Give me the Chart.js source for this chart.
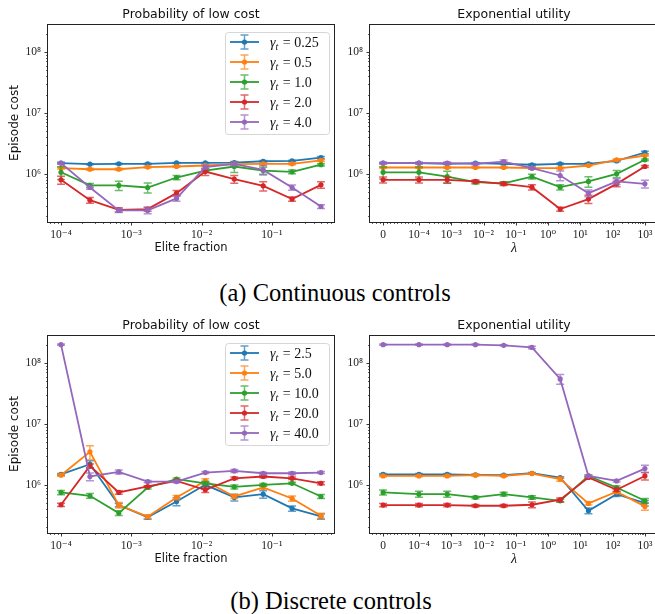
<!DOCTYPE html>
<html>
<head>
<meta charset="utf-8">
<script src="https://cdn.jsdelivr.net/npm/chart.js@4.4.0/dist/chart.umd.min.js"></script>
<style>
html, body { margin: 0; padding: 0; background: #fff; overflow: hidden; }
#page { position: relative; width: 655px; height: 614px; overflow: hidden; }
canvas { position: absolute; }
.caption { position: absolute; left: 0; text-align: center; font-family: "Liberation Serif", serif; font-size: 24.5px; line-height: 24px; color: #000; }
</style>
</head>
<body>
<div id="page">
  <canvas id="contElite" width="340" height="262" style="left:0;top:0"></canvas>
  <canvas id="contUtil" width="330" height="262" style="left:335px;top:0"></canvas>
  <div class="caption" style="top:281px;width:670px">(a) Continuous controls</div>
  <canvas id="discElite" width="340" height="262" style="left:0;top:311px"></canvas>
  <canvas id="discUtil" width="330" height="262" style="left:335px;top:311px"></canvas>
  <div class="caption" style="top:589px;width:662px">(b) Discrete controls</div>
</div>
<script>
// x values
const eliteFrac = [1e-4, 2.58e-4, 6.64e-4, 1.71e-3, 4.40e-3, 1.13e-2, 2.92e-2, 7.53e-2, 0.194, 0.5];
const lambdas = [0, 1e-4, 7.5e-4, 5.62e-3, 4.22e-2, 0.316, 2.37, 17.8, 133, 1000];

// tick labels
const eliteTicks = [1e-4, 1e-3, 1e-2, 1e-1];
const eliteTickLabels = ['10⁻⁴', '10⁻³', '10⁻²', '10⁻¹'];
const lambdaTicks = [0, 1e-4, 1e-3, 1e-2, 1e-1, 1, 10, 100, 1000];
const lambdaTickLabels = ['0', '10⁻⁴', '10⁻³', '10⁻²', '10⁻¹', '10⁰', '10¹', '10²', '10³'];
const costTicks = [1e6, 1e7, 1e8];
const costTickLabels = ['10⁶', '10⁷', '10⁸'];

const contGammas = ['0.25', '0.5', '1.0', '2.0', '4.0'];
const discGammas = ['2.5', '5.0', '10.0', '20.0', '40.0'];
const colors = ['#1f77b4', '#ff7f0e', '#2ca02c', '#d62728', '#9467bd'];

// (a) continuous, probability of low cost
const contEliteCost = [
  [1.50e6, 1.44e6, 1.46e6, 1.46e6, 1.51e6, 1.51e6, 1.53e6, 1.61e6, 1.63e6, 1.85e6],
  [1.24e6, 1.19e6, 1.19e6, 1.29e6, 1.32e6, 1.37e6, 1.44e6, 1.46e6, 1.46e6, 1.66e6],
  [1.06e6, 6.45e5, 6.45e5, 5.97e5, 8.7e5, 1.13e6, 1.32e6, 1.13e6, 1.08e6, 1.41e6],
  [7.97e5, 3.70e5, 2.57e5, 2.64e5, 4.82e5, 1.09e6, 8.19e5, 6.35e5, 3.85e5, 6.6e5],
  [1.50e6, 5.97e5, 2.51e5, 2.51e5, 3.95e5, 1.29e6, 1.46e6, 1.16e6, 5.97e5, 2.91e5]
];
const contEliteErr = [
  [3e4, 3e4, 3e4, 3e4, 3e4, 3e4, 3e4, 4e4, 4e4, 8e4],
  [4e4, 4e4, 4e4, 4e4, 4e4, 4e4, 5e4, 5e4, 5e4, 6e4],
  [2.5e5, 5e4, 1.1e5, 1.1e5, 7e4, 5e4, 2.7e5, 1.5e5, 8e4, 6e4],
  [1.2e5, 4e4, 2e4, 2e4, 5e4, 1.5e5, 1.2e5, 1.1e5, 3e4, 8e4],
  [5e4, 4e4, 2e4, 3e4, 4e4, 8e4, 1e5, 2e5, 6e4, 2e4]
];

// (a) continuous, exponential utility
const contUtilCost = [
  [1.50e6, 1.50e6, 1.46e6, 1.50e6, 1.46e6, 1.41e6, 1.46e6, 1.46e6, 1.63e6, 2.24e6],
  [1.27e6, 1.27e6, 1.27e6, 1.27e6, 1.27e6, 1.24e6, 1.24e6, 1.37e6, 1.70e6, 2.0e6],
  [1.06e6, 1.06e6, 9.0e5, 7.3e5, 7.0e5, 9.0e5, 6.04e5, 7.5e5, 1.0e6, 1.70e6],
  [7.97e5, 7.97e5, 7.97e5, 7.5e5, 6.85e5, 6.04e5, 2.64e5, 3.85e5, 6.85e5, 1.32e6],
  [1.50e6, 1.50e6, 1.50e6, 1.46e6, 1.59e6, 1.24e6, 9.4e5, 4.82e5, 7.5e5, 6.85e5]
];
const contUtilErr = [
  [4e4, 4e4, 4e4, 4e4, 4e4, 4e4, 4e4, 4e4, 5e4, 1e5],
  [4e4, 4e4, 4e4, 4e4, 4e4, 4e4, 4e4, 4e4, 6e4, 6e4],
  [2.4e5, 2.4e5, 2e5, 5e4, 4e4, 8e4, 6e4, 1.5e5, 1.3e5, 6e4],
  [9e4, 9e4, 9e4, 4e4, 4e4, 6e4, 2e4, 6e4, 7e4, 5e4],
  [5e4, 5e4, 6e4, 6e4, 1e5, 5e4, 1.7e5, 6e4, 8e4, 1e5]
];

// (b) discrete, probability of low cost
const discEliteCost = [
  [1.49e6, 2.18e6, 4.65e5, 2.93e5, 5.34e5, 1.0e6, 6.21e5, 7.03e5, 4.10e5, 3.03e5],
  [1.44e6, 3.47e6, 4.65e5, 3.0e5, 6.21e5, 1.16e6, 6.44e5, 9.04e5, 5.98e5, 3.11e5],
  [7.5e5, 6.6e5, 3.44e5, 9.04e5, 1.24e6, 1.06e6, 9.27e5, 1.0e6, 1.06e6, 6.44e5],
  [4.71e5, 2.05e6, 7.5e5, 9.4e5, 1.16e6, 8.28e5, 1.28e6, 1.37e6, 1.28e6, 1.06e6],
  [2.0e8, 1.37e6, 1.63e6, 1.13e6, 1.13e6, 1.59e6, 1.69e6, 1.55e6, 1.55e6, 1.59e6]
];
const discEliteErr = [
  [5e4, 3e5, 3e4, 2e4, 8e4, 1.5e5, 8e4, 1e5, 4e4, 3e4],
  [5e4, 9e5, 5e4, 2e4, 5e4, 1e5, 5e4, 5e4, 6e4, 3e4],
  [6e4, 6e4, 3e4, 5e4, 5e4, 5e4, 7e4, 5e4, 4e4, 5e4],
  [3e4, 1.5e5, 5e4, 3e4, 4e4, 8e4, 6e4, 6e4, 6e4, 6e4],
  [5e6, 2e5, 1.2e5, 5e4, 5e4, 6e4, 1e5, 6e4, 8e4, 6e4]
];

// (b) discrete, exponential utility
const discUtilCost = [
  [1.49e6, 1.49e6, 1.49e6, 1.46e6, 1.44e6, 1.55e6, 1.32e6, 3.76e5, 7.03e5, 5.01e5],
  [1.40e6, 1.40e6, 1.40e6, 1.44e6, 1.40e6, 1.53e6, 1.24e6, 4.95e5, 7.69e5, 4.43e5],
  [7.5e5, 7.03e5, 7.03e5, 6.21e5, 7.03e5, 6.21e5, 5.47e5, 1.40e6, 9.04e5, 5.47e5],
  [4.65e5, 4.65e5, 4.65e5, 4.54e5, 4.54e5, 4.71e5, 5.69e5, 1.32e6, 8.28e5, 1.40e6],
  [2.0e8, 2.0e8, 2.0e8, 2.0e8, 1.95e8, 1.80e8, 5.47e7, 1.40e6, 1.16e6, 1.85e6]
];
const discUtilErr = [
  [4e4, 4e4, 4e4, 4e4, 4e4, 4e4, 4e4, 4e4, 6e4, 5e4],
  [4e4, 4e4, 4e4, 4e4, 4e4, 4e4, 1e5, 3e4, 5e4, 6e4],
  [7e4, 8e4, 8e4, 3e4, 5e4, 4e4, 3e4, 5e4, 5e4, 5e4],
  [3e4, 3e4, 3e4, 2e4, 2e4, 5e4, 4e4, 5e4, 5e4, 2e5],
  [4e6, 4e6, 4e6, 4e6, 4e6, 8e6, 1e7, 5e4, 5e4, 2.5e5]
];

// symlog transform (linthresh 1e-4, linscale 1), like matplotlib
const LT = 1e-4, LS = 1 / (1 - 0.1);
function symlog(v) {
  const a = Math.abs(v);
  if (a <= LT) return v / LT * LS;
  return Math.sign(v) * (LS + Math.log10(a / LT));
}

const Y_MIN = 1.62e5, Y_MAX = 2.88e8;
const yMinor = [];
for (let j = 5; j <= 8; j++) for (let k = 2; k <= 9; k++) {
  const v = k * Math.pow(10, j);
  if (v > Y_MIN && v < Y_MAX) yMinor.push(v);
}

const ELITE_MIN = 6.53e-5, ELITE_MAX = 0.766;
const eliteMinor = [];
for (let j = -5; j <= -1; j++) for (let k = 2; k <= 9; k++) {
  const v = k * Math.pow(10, j);
  if (v > ELITE_MIN && v < ELITE_MAX) eliteMinor.push(v);
}

const LAM_MIN = -0.406, LAM_MAX = 8.517;
const lamMinor = [];
for (let k = -3; k <= 9; k++) if (k !== 0) lamMinor.push(symlog(k * 1e-5));
for (let j = -4; j <= 3; j++) for (let k = 2; k <= 9; k++) {
  const s = symlog(k * Math.pow(10, j));
  if (s < LAM_MAX) lamMinor.push(s);
}

function supFont(size) { return { family: '"Liberation Serif", "DejaVu Serif", serif', size: size }; }

const mplPlugin = {
  id: 'mpl',
  beforeDatasetDraw(chart, args) {
    const ds = chart.data.datasets[args.index];
    const ctx = chart.ctx, ys = chart.scales.y;
    ctx.save();
    ctx.strokeStyle = ds.borderColor;
    ctx.globalAlpha = 0.7;
    ctx.lineWidth = 1.5;
    args.meta.data.forEach((pt, i) => {
      const v = ds.data[i].y, e = ds.err[i];
      const top = ys.getPixelForValue(v + e);
      const bot = ys.getPixelForValue(Math.max(v - e, 1));
      ctx.beginPath();
      ctx.moveTo(pt.x, top); ctx.lineTo(pt.x, bot);
      ctx.moveTo(pt.x - 4, top); ctx.lineTo(pt.x + 4, top);
      ctx.moveTo(pt.x - 4, bot); ctx.lineTo(pt.x + 4, bot);
      ctx.stroke();
    });
    ctx.restore();
  },
  afterDraw(chart, args, opts) {
    const ctx = chart.ctx, a = chart.chartArea;
    const xs = chart.scales.x, ys = chart.scales.y;
    ctx.save();
    // frame
    ctx.strokeStyle = '#222';
    ctx.lineWidth = 1;
    ctx.strokeRect(a.left - 0.5, a.top + 0.5, a.right - a.left + 1, a.bottom - a.top);
    // ticks
    const tick = (list, len, lw, horiz) => {
      ctx.lineWidth = lw;
      ctx.beginPath();
      list.forEach(v => {
        if (horiz) {
          const p = Math.round(xs.getPixelForValue(v)) + 0.5;
          ctx.moveTo(p, a.bottom); ctx.lineTo(p, a.bottom + len);
        } else {
          const p = Math.round(ys.getPixelForValue(v)) + 0.5;
          ctx.moveTo(a.left, p); ctx.lineTo(a.left - len, p);
        }
      });
      ctx.stroke();
    };
    tick(opts.xMajor, 3.5, 0.9, true);
    tick(opts.xMinor, 2, 0.7, true);
    tick(costTicks, 3.5, 0.9, false);
    tick(yMinor, 2, 0.7, false);
    // titles
    ctx.fillStyle = '#111';
    ctx.textAlign = 'center';
    ctx.textBaseline = 'middle';
    ctx.font = '12.5px "DejaVu Sans"';
    ctx.fillText(opts.title, (a.left + a.right) / 2, a.top - 9.5);
    ctx.font = opts.xTitleFont;
    ctx.fillText(opts.xTitle, (a.left + a.right) / 2, a.bottom + 26);
    if (opts.yTitle) {
      ctx.save();
      ctx.translate(15, (a.top + a.bottom) / 2);
      ctx.rotate(-Math.PI / 2);
      ctx.font = '12px "DejaVu Sans"';
      ctx.fillText(opts.yTitle, 0, 0);
      ctx.restore();
    }
    if (opts.legend) drawLegend(chart, opts.legend);
    ctx.restore();
  }
};

function drawLegend(chart, gammas) {
  const ctx = chart.ctx, a = chart.chartArea;
  const w = 104, h = 102, x0 = a.right - 5 - w, y0 = a.top + 8;
  ctx.save();
  ctx.beginPath();
  ctx.roundRect(x0 + 0.5, y0 + 0.5, w, h, 3);
  ctx.fillStyle = 'rgba(255,255,255,0.8)';
  ctx.fill();
  ctx.strokeStyle = '#d6d6d6';
  ctx.lineWidth = 1;
  ctx.stroke();
  chart.data.datasets.forEach((ds, i) => {
    const cy = y0 + 10 + i * 20, hx = x0 + 19.5;
    ctx.strokeStyle = ds.borderColor;
    ctx.lineWidth = 1.8;
    ctx.beginPath(); ctx.moveTo(x0 + 5, cy); ctx.lineTo(x0 + 34, cy); ctx.stroke();
    ctx.globalAlpha = 0.7;
    ctx.lineWidth = 1.5;
    ctx.beginPath();
    ctx.moveTo(hx, cy - 7); ctx.lineTo(hx, cy + 7);
    ctx.moveTo(hx - 4, cy - 7); ctx.lineTo(hx + 4, cy - 7);
    ctx.moveTo(hx - 4, cy + 7); ctx.lineTo(hx + 4, cy + 7);
    ctx.stroke();
    ctx.globalAlpha = 1;
    ctx.fillStyle = ds.borderColor;
    ctx.beginPath(); ctx.arc(hx, cy, 2.6, 0, Math.PI * 2); ctx.fill();
    // label: gamma_t = value
    ctx.fillStyle = '#111';
    ctx.textAlign = 'left';
    ctx.textBaseline = 'alphabetic';
    let tx = x0 + 45;
    const base = cy + 5;
    ctx.font = 'italic 14px "Liberation Serif", "DejaVu Serif", serif';
    ctx.fillText('γ', tx, base);
    tx += ctx.measureText('γ').width;
    ctx.font = 'italic 10px "Liberation Serif", "DejaVu Serif", serif';
    ctx.fillText('t', tx, base + 3);
    tx += ctx.measureText('t').width + 1;
    ctx.font = '14px "Liberation Serif", "DejaVu Serif", serif';
    ctx.fillText(' = ' + gammas[i], tx, base);
  });
  ctx.restore();
}

function buildChart(id, cfg) {
  const isLog = cfg.kind === 'elite';
  const xv = isLog ? eliteFrac : lambdas.map(symlog);
  const datasets = cfg.cost.map((series, i) => ({
    label: 'γt = ' + cfg.gammas[i],
    data: series.map((y, j) => ({ x: xv[j], y: y })),
    err: cfg.err[i],
    borderColor: colors[i],
    backgroundColor: colors[i],
    borderWidth: 1.8,
    pointRadius: 2.6,
    pointBorderWidth: 0,
    pointHoverRadius: 0,
    tension: 0,
    order: 4 - i
  }));
  const xMajorVals = isLog ? eliteTicks : lambdaTicks.map(symlog);
  const xLabels = isLog ? eliteTickLabels : lambdaTickLabels;
  return new Chart(document.getElementById(id), {
    type: 'line',
    data: { datasets: datasets },
    plugins: [mplPlugin],
    options: {
      responsive: false,
      animation: false,
      devicePixelRatio: 1,
      events: [],
      layout: { padding: { top: 24, right: cfg.padR, left: 0, bottom: 0 } },
      plugins: {
        legend: { display: false },
        tooltip: { enabled: false },
        mpl: {
          title: cfg.title,
          xTitle: isLog ? 'Elite fraction' : 'λ',
          xTitleFont: isLog ? '11.5px "DejaVu Sans"' : 'italic 14px "Liberation Serif", "DejaVu Serif", serif',
          yTitle: cfg.yTitle,
          legend: cfg.legend,
          xMajor: xMajorVals,
          xMinor: isLog ? eliteMinor : lamMinor
        }
      },
      scales: {
        x: {
          type: isLog ? 'logarithmic' : 'linear',
          min: isLog ? ELITE_MIN : LAM_MIN,
          max: isLog ? ELITE_MAX : LAM_MAX,
          grid: { display: false, drawTicks: false },
          border: { display: false },
          ticks: {
            autoSkip: false, maxRotation: 0, padding: 6,
            color: '#222', font: supFont(11.5),
            callback: (v, i) => xLabels[i]
          },
          afterBuildTicks: s => { s.ticks = xMajorVals.map(v => ({ value: v })); },
          afterFit: s => { s.height = 40; }
        },
        y: {
          type: 'logarithmic',
          min: Y_MIN, max: Y_MAX,
          grid: { display: false, drawTicks: false },
          border: { display: false },
          ticks: {
            autoSkip: false, padding: 7,
            color: '#222', font: supFont(11.5),
            callback: (v, i) => costTickLabels[i]
          },
          afterBuildTicks: s => { s.ticks = costTicks.map(v => ({ value: v })); },
          afterFit: s => { s.width = cfg.yW; }
        }
      }
    }
  });
}

buildChart('contElite', { kind: 'elite', cost: contEliteCost, err: contEliteErr, gammas: contGammas,
  title: 'Probability of low cost', yTitle: 'Episode cost', legend: contGammas, yW: 48, padR: 6 });
buildChart('contUtil', { kind: 'lambda', cost: contUtilCost, err: contUtilErr, gammas: contGammas,
  title: 'Exponential utility', yTitle: null, legend: null, yW: 35, padR: 7 });
buildChart('discElite', { kind: 'elite', cost: discEliteCost, err: discEliteErr, gammas: discGammas,
  title: 'Probability of low cost', yTitle: 'Episode cost', legend: discGammas, yW: 48, padR: 6 });
buildChart('discUtil', { kind: 'lambda', cost: discUtilCost, err: discUtilErr, gammas: discGammas,
  title: 'Exponential utility', yTitle: null, legend: null, yW: 35, padR: 7 });
</script>
</body>
</html>
